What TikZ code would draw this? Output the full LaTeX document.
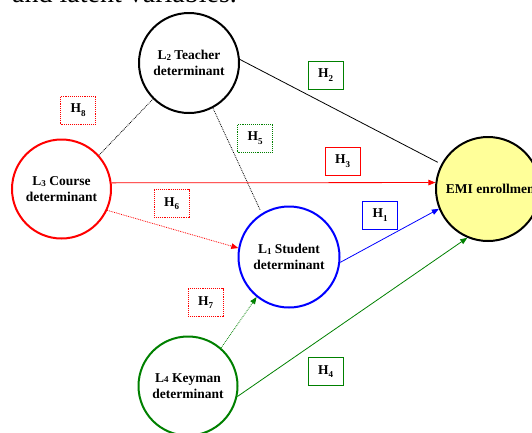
\documentclass[tikz,border=0pt]{standalone}
\usepackage{fontspec}
\setmainfont{Liberation Serif}
\usetikzlibrary{arrows.meta}
\definecolor{grn}{RGB}{0,128,0}
\definecolor{emiyellow}{RGB}{255,255,153}
\newcommand{\latlab}[2]{#1\raisebox{-0.6pt}{\fontsize{9}{9}\selectfont #2}}
\newcommand{\hyplab}[1]{H\raisebox{-3.5pt}{\fontsize{9}{9}\selectfont #1}}
\begin{document}
\begin{tikzpicture}[x=1pt,y=-1pt,
  latent/.style={circle,draw,line width=2pt,inner sep=0pt,font=\fontsize{13.5}{16}\selectfont\bfseries,align=center},
  hyp/.style={draw,line width=0.9pt,minimum width=35pt,minimum height=28pt,inner sep=0pt,font=\fontsize{13.5}{15}\selectfont\bfseries},
  link/.style={line width=0.8pt},
  tip/.style={-{Triangle[length=7pt,width=5.5pt]}},
]
\useasboundingbox (0,0) rectangle (532,432);

\node[anchor=base west,inner sep=0pt,font=\fontsize{28}{30}\selectfont] (cap) at (12,2.5) {and latent variables.};

\node[latent,minimum size=100pt] (L2) at (189,63) {\latlab{L}{2} Teacher\\determinant};
\node[latent,minimum size=99pt,draw=red] (L3) at (61.5,189) {\latlab{L}{3} Course\\determinant};
\node[latent,minimum size=104pt,fill=emiyellow] (EMI) at (488,189) {};
\node[font=\fontsize{13.5}{15}\selectfont\bfseries,inner sep=0pt] (emitext) at (492.5,189) {EMI enrollment};
\node[latent,minimum size=101pt,draw=blue] (L1) at (289,257) {\latlab{L}{1} Student\\determinant};
\node[latent,minimum size=99pt,draw=grn] (L4) at (188,386) {\latlab{L}{4} Keyman\\determinant};

\draw[link,densely dotted] (L3.42) -- (L2.225);
\draw[link,densely dotted,shorten >=4pt] (L2.-62) -- (L1.122);
\draw[link,shorten >=4pt] (L2.4) -- (EMI.152);
\draw[link,red,tip] (L3.7) -- (EMI.173);
\draw[link,red,densely dotted,tip] (L3.-25) -- (L1.170);
\draw[link,blue,tip] (L1.-6) -- (EMI.202);
\draw[link,grn,densely dotted,tip] (L4.49) -- (L1.231);
\draw[link,grn,tip] (L4.-12) -- (EMI.247);

\node[hyp,draw=red,densely dotted] (H8) at (78,110) {\hyplab{8}};
\node[hyp,draw=grn] (H2) at (325.5,75) {\hyplab{2}};
\node[hyp,draw=grn,densely dotted] (H5) at (255,138) {\hyplab{5}};
\node[hyp,draw=red] (H3) at (342.5,161) {\hyplab{3}};
\node[hyp,draw=red,densely dotted] (H6) at (171.5,203.5) {\hyplab{6}};
\node[hyp,draw=blue] (H1) at (380,215) {\hyplab{1}};
\node[hyp,draw=red,densely dotted] (H7) at (205.5,302.5) {\hyplab{7}};
\node[hyp,draw=grn] (H4) at (325.5,371.5) {\hyplab{4}};
\end{tikzpicture}
\end{document}
